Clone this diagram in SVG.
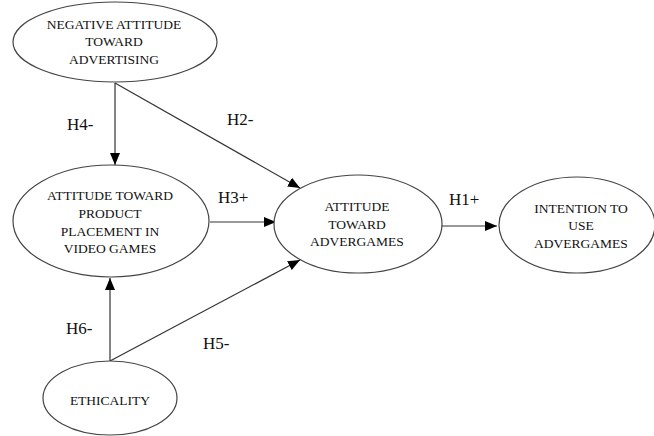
<svg xmlns="http://www.w3.org/2000/svg" width="654" height="436" viewBox="0 0 654 436">
<defs>
<marker id="ah" viewBox="0 0 12 10" refX="12" refY="5" markerWidth="12" markerHeight="10" markerUnits="userSpaceOnUse" orient="auto">
<path d="M0,0 L12,5 L0,10 Z" fill="#000"/>
</marker>
</defs>
<style>
.node ellipse{fill:#fff;stroke:#444;stroke-width:1.2}
.node text{font-family:"Liberation Serif","Times New Roman",serif;font-size:13.5px;fill:#111;text-anchor:middle}
.edge{stroke:#333;stroke-width:1.2;fill:none;marker-end:url(#ah)}
.lbl{font-family:"Liberation Serif","Times New Roman",serif;font-size:17px;fill:#111}
</style>
<rect width="654" height="436" fill="#fff"/>
<g id="connectors">
<line class="edge" x1="115" y1="83" x2="115" y2="165"/>
<line class="edge" x1="115" y1="83" x2="300" y2="188"/>
<line class="edge" x1="210" y1="222" x2="276" y2="222"/>
<line class="edge" x1="442" y1="226" x2="497" y2="226"/>
<line class="edge" x1="110" y1="361" x2="110" y2="278"/>
<line class="edge" x1="110" y1="361" x2="300" y2="260"/>
<text class="lbl" x="67" y="130">H4-</text>
<text class="lbl" x="227" y="125">H2-</text>
<text class="lbl" x="218" y="203">H3+</text>
<text class="lbl" x="449" y="205">H1+</text>
<text class="lbl" x="66" y="334">H6-</text>
<text class="lbl" x="203" y="349">H5-</text>
</g>
<g id="n-negative" class="node">
<ellipse cx="115" cy="42" rx="102" ry="40"/>
<text x="114" y="29">NEGATIVE ATTITUDE</text>
<text x="114" y="46">TOWARD</text>
<text x="114" y="64">ADVERTISING</text>
</g>
<g id="n-product" class="node">
<ellipse cx="111" cy="221" rx="98" ry="56"/>
<text x="110" y="200">ATTITUDE TOWARD</text>
<text x="110" y="218">PRODUCT</text>
<text x="110" y="236">PLACEMENT IN</text>
<text x="110" y="253">VIDEO GAMES</text>
</g>
<g id="n-advergames" class="node">
<ellipse cx="358" cy="224" rx="84" ry="49"/>
<text x="357" y="211">ATTITUDE</text>
<text x="357" y="229">TOWARD</text>
<text x="357" y="246">ADVERGAMES</text>
</g>
<g id="n-intention" class="node">
<ellipse cx="577" cy="225" rx="78" ry="48"/>
<text x="581" y="213">INTENTION TO</text>
<text x="581" y="230">USE</text>
<text x="581" y="248">ADVERGAMES</text>
</g>
<g id="n-ethicality" class="node">
<ellipse cx="110" cy="398" rx="67" ry="37"/>
<text x="110" y="405">ETHICALITY</text>
</g>
</svg>
